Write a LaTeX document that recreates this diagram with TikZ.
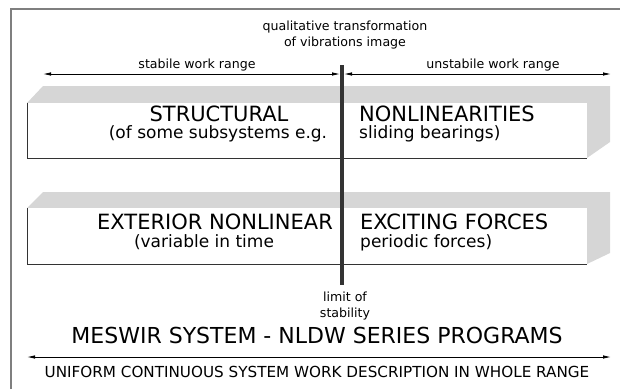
\documentclass[tikz,border=0pt]{standalone}
\usepackage{fontspec}
\setmainfont{DejaVu Sans}
\usetikzlibrary{arrows.meta,positioning}
\definecolor{facegray}{HTML}{D6D6D6}
\definecolor{edgegray}{HTML}{333333}
\definecolor{framegray}{HTML}{7F7F7F}
\tikzstyle{outerframe} = [draw=framegray,line width=1.3pt]
\tikzstyle{slabface} = [fill=facegray]
\tikzstyle{slabfront} = [fill=white]
\tikzstyle{slabedge} = [draw=edgegray,line width=0.9pt]
\tikzstyle{limitbar} = [draw=edgegray,line width=4pt]
\tikzstyle{workrange} = [{Latex[length=8pt,width=3.5pt]}-{Latex[length=8pt,width=3.5pt]},line width=0.8pt]
\tikzstyle{slabtitle} = [inner sep=0,font=\fontsize{21}{24}\selectfont]
\tikzstyle{slabsub} = [inner sep=0,font=\fontsize{17}{20}\selectfont]
\tikzstyle{note} = [inner sep=0,font=\fontsize{12.6}{16}\selectfont,align=center]
\tikzstyle{banner} = [inner sep=0,font=\fontsize{22}{24}\selectfont]
\tikzstyle{summary} = [inner sep=0,font=\fontsize{15.2}{18}\selectfont]
% one slab: #1 top of top face, #2 top of front, #3 bottom of front, #4 bottom of side
\newcommand{\slab}[4]{%
  \path[slabface] (27,#2) -- (43,#1) -- (610,#1) -- (610,#4) -- (587,#3) -- (587,#2) -- cycle;
  \path[slabfront] (27,#2) rectangle (587,#3);
  \draw[slabedge] (27,#2) -- (27,#3) -- (587,#3);
}

\begin{document}
\begin{tikzpicture}[x=1pt,y=-1pt]
  \useasboundingbox (0,0) rectangle (620,389);
  % outer frame
  \draw[outerframe] (11,389) -- (11,9) -- (620,9);
  % slabs
  \slab{86}{103}{158}{142}
  \slab{192}{208}{264}{253}
  % limit of stability
  \coordinate (bartop) at (342,65);
  \coordinate (barbot) at (342,285);
  \draw[limitbar] (bartop) -- (barbot);
  % work ranges
  \coordinate (stabL) at (43,74);
  \coordinate (stabR) at (340,74);
  \coordinate (unstL) at (344,74);
  \coordinate (unstR) at (611,74);
  \draw[workrange] (stabL) -- (stabR);
  \draw[workrange] (unstL) -- (unstR);
  \coordinate (wholeL) at (27,357);
  \coordinate (wholeR) at (611,357);
  \draw[workrange] (wholeL) -- (wholeR);
  % labels
  \node[note,anchor=base] (qual) at (345,46) {qualitative transformation\\of vibrations image};
  \node[note,anchor=base] (stab) at (197,68) {stabile work range};
  \node[note,anchor=base] (unst) at (493,68) {unstabile work range};
  \node[slabtitle,anchor=base] (struct) at (219,121) {STRUCTURAL};
  \node[slabsub,anchor=base] (structsub) at (218,138.5) {(of some subsystems e.g.};
  \node[slabtitle,anchor=base west] (nonlin) at (359,121) {NONLINEARITIES};
  \node[slabsub,anchor=base west] (nonlinsub) at (359,138.5) {sliding bearings)};
  \node[slabtitle,anchor=base] (ext) at (215,229) {EXTERIOR NONLINEAR};
  \node[slabsub,anchor=base] (extsub) at (204,247) {(variable in time};
  \node[slabtitle,anchor=base west] (exc) at (360,229) {EXCITING FORCES};
  \node[slabsub,anchor=base west] (excsub) at (360,247) {periodic forces)};
  \node[note,anchor=base] (lim) at (345,317) {limit of\\stability};
  \node[banner,anchor=base] (meswir) at (317,343) {MESWIR SYSTEM - NLDW SERIES PROGRAMS};
  \node[summary,anchor=base] (uniform) at (317,377) {UNIFORM CONTINUOUS SYSTEM WORK DESCRIPTION IN WHOLE RANGE};
\end{tikzpicture}
\end{document}
